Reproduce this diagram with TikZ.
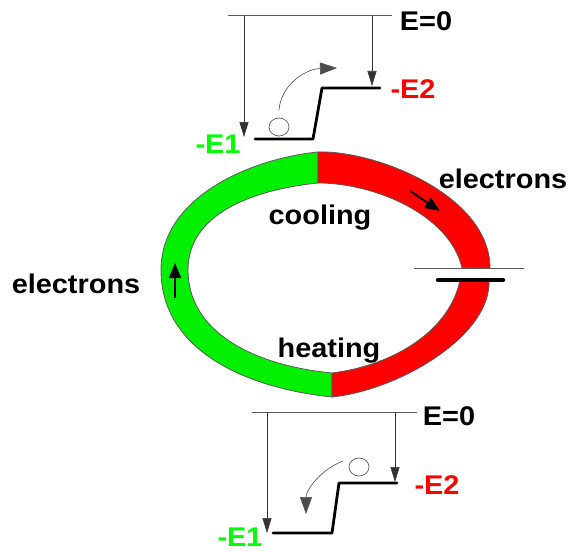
\documentclass[tikz,border=0pt]{standalone}
\usepackage{fontspec}
\setmainfont{Liberation Sans}
\usepackage{xcolor}
\usetikzlibrary{positioning,arrows.meta,shapes.geometric}
\definecolor{hotred}{RGB}{255,0,0}
\definecolor{coldgreen}{RGB}{0,240,0}
\definecolor{edgegray}{RGB}{90,90,90}
\tikzset{
  lab/.style={font=\fontsize{27}{27}\selectfont\bfseries, inner sep=0pt, xscale=1.07},
  ring/.style={draw=edgegray, line width=0.8pt},
  zero/.style={draw=edgegray, line width=1pt},
  fall/.style={-{Stealth[length=15pt,width=9pt,inset=0pt]}, line width=0.6pt, draw=black!80},
  level/.style={line width=2.8pt, line cap=round, line join=round},
  ball/.style={draw=edgegray, line width=0.7pt, shape=ellipse, minimum width=20pt, minimum height=18pt, inner sep=0pt},
  hop/.style={-{Stealth[length=17pt,width=12pt,inset=0pt]}, line width=0.6pt, draw=black!70},
  flow/.style={-{Stealth[length=15pt,width=12pt,inset=0pt]}, line width=1.8pt}
}
\begin{document}
\begin{tikzpicture}[x=1pt, y=-1pt]
\useasboundingbox (0,0) rectangle (570,551);

% ring
\filldraw[ring, fill=coldgreen] (318,152) .. controls (255,158) and (161,195) .. (161,270)
  .. controls (161,350) and (245,388) .. (332,397) -- (332,373)
  .. controls (250,365) and (188,330) .. (188,270)
  .. controls (188,215) and (250,190) .. (318,183) -- cycle;
\filldraw[ring, fill=hotred] (318,152) .. controls (375,150) and (490,195) .. (490,268)
  -- (462,268) .. controls (450,215) and (375,183) .. (318,183) -- cycle;
\filldraw[ring, fill=hotred] (489,280) .. controls (492,335) and (400,390) .. (332,397)
  -- (332,373) .. controls (395,365) and (450,330) .. (460,280) -- cycle;

% battery
\coordinate (P1) at (414,268);
\coordinate (P2) at (524,268);
\coordinate (N1) at (438,280);
\coordinate (N2) at (503,280);
\draw[zero] (P1) -- (P2);
\draw[line width=4.5pt, line cap=round] (N1) -- (N2);

% flow arrows
\coordinate (R1) at (410,191);
\coordinate (R2) at (440,211);
\coordinate (G1) at (175,298);
\coordinate (G2) at (175,263);
\draw[flow] (R1) -- (R2);
\draw[flow] (G1) -- (G2);

% upper levels
\coordinate (A0) at (228,16);
\coordinate (A1) at (392,16);
\coordinate (A2) at (244,16);
\coordinate (A3) at (244,137);
\coordinate (A4) at (372,16);
\coordinate (A5) at (372,86);
\coordinate (A6) at (255,139);
\coordinate (A7) at (313,139);
\coordinate (A8) at (322,88);
\coordinate (A9) at (380,88);
\draw[zero] (A0) -- (A1);
\draw[fall] (A2) -- (A3);
\draw[fall] (A4) -- (A5);
\draw[level] (A6) -- (A7) -- (A8) -- (A9);
\node[ball] (ballA) at (279,127) {};
\coordinate (A10) at (279,110);
\coordinate (A11) at (337,68);
\draw[hop] (A10) .. controls (281,85) and (305,69) .. (A11);

% lower levels
\coordinate (B0) at (252,412);
\coordinate (B1) at (417,412);
\coordinate (B2) at (267,412);
\coordinate (B3) at (267,533);
\coordinate (B4) at (395,412);
\coordinate (B5) at (395,482);
\coordinate (B6) at (273,533);
\coordinate (B7) at (332,533);
\coordinate (B8) at (339,483);
\coordinate (B9) at (397,483);
\draw[zero] (B0) -- (B1);
\draw[fall] (B2) -- (B3);
\draw[fall] (B4) -- (B5);
\draw[level] (B6) -- (B7) -- (B8) -- (B9);
\node[ball] (ballB) at (359,467) {};
\coordinate (B10) at (343,461);
\coordinate (B11) at (306,514);
\draw[hop] (B10) .. controls (320,470) and (306,490) .. (B11);

% labels
\node[lab] (zeroA) at (426,21) {E=0};
\node[lab] (zeroB) at (449,416) {E=0};
\node[lab, text=hotred] (e2A) at (413,89) {-E2};
\node[lab, text=hotred] (e2B) at (437,485) {-E2};
\node[lab, text=green] (e1A) at (218,144) {-E1};
\node[lab, text=green] (e1B) at (240,537) {-E1};
\node[lab] (coolL) at (320,218) {cooling};
\node[lab] (heatL) at (329,351) {heating};
\node[lab] (elecL) at (76,284) {electrons};
\node[lab] (elecR) at (503,179) {electrons};
\end{tikzpicture}
\end{document}
